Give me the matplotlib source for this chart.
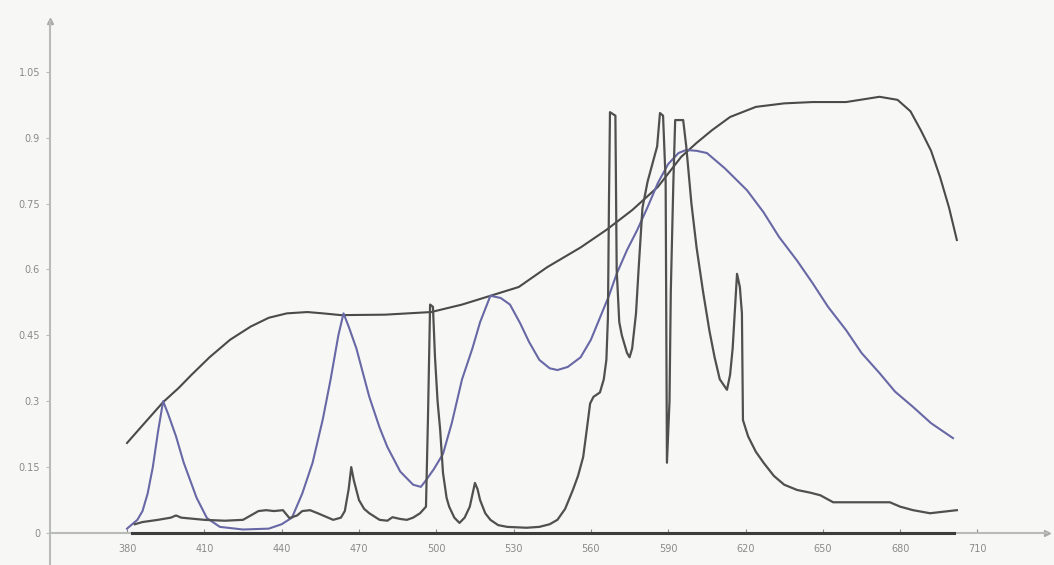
import matplotlib.pyplot as plt

# smooth transmittance-like curve (dark)
wl_t = [380, 386, 394, 400, 405, 412, 420, 428, 435, 442, 450, 456, 463, 480, 498, 510,
        521, 532, 543, 556, 566, 576, 586, 595, 601, 607, 614, 624, 635, 646, 659, 672,
        679, 684, 688, 692, 695.5, 699, 702]
val_t = [0.205, 0.245, 0.298, 0.33, 0.36, 0.40, 0.44, 0.47, 0.49, 0.50, 0.503, 0.50, 0.496,
         0.497, 0.503, 0.52, 0.54, 0.56, 0.605, 0.65, 0.69, 0.735, 0.788, 0.856, 0.888,
         0.917, 0.947, 0.97, 0.978, 0.981, 0.981, 0.993, 0.986, 0.96, 0.917, 0.87, 0.81,
         0.74, 0.667]

# multi-peak smooth curve (blue)
wl_b = [380, 384, 386, 388, 390, 392, 394, 396, 399, 402, 404.5, 407, 411, 416, 425, 435,
        440, 444, 448, 452, 456, 459, 462, 464, 466, 469, 474, 478, 481, 486, 491, 494,
        496, 499, 502.6, 506, 510, 514, 517, 521, 525, 528.6, 532.5, 536, 540, 544, 547,
        551, 556, 560, 563.5, 567, 570, 574, 578, 582, 586, 590, 594, 597, 601, 605, 612,
        620.6, 627, 633, 640, 646, 652, 659, 665, 672, 678, 685, 692, 700.5]
val_b = [0.01, 0.03, 0.05, 0.09, 0.15, 0.23, 0.30, 0.27, 0.22, 0.16, 0.12, 0.08, 0.034,
         0.014, 0.008, 0.01, 0.02, 0.035, 0.09, 0.16, 0.26, 0.35, 0.45, 0.50, 0.47, 0.42,
         0.31, 0.24, 0.196, 0.14, 0.11, 0.105, 0.12, 0.145, 0.18, 0.25, 0.35, 0.42, 0.48,
         0.54, 0.535, 0.52, 0.478, 0.435, 0.394, 0.375, 0.371, 0.378, 0.40, 0.44, 0.49,
         0.54, 0.59, 0.644, 0.69, 0.742, 0.797, 0.84, 0.865, 0.872, 0.87, 0.865, 0.83,
         0.78, 0.73, 0.674, 0.62, 0.569, 0.515, 0.462, 0.41, 0.364, 0.322, 0.287, 0.25,
         0.216]

# jagged emission spectrum (grey)
wl_s = [383, 386, 392, 397, 399, 401, 410, 418, 425, 428, 431, 434, 437, 440.5, 443, 446,
        448, 451, 454, 457.6, 460, 463, 464.5, 466, 467, 468, 470, 472, 474, 478, 481, 483,
        486, 488.6, 491, 493.7, 496, 496.8, 497.6, 498.7, 499.5, 500.5, 501.5, 502.6, 504,
        505, 507, 509, 511, 513, 515, 516, 517, 519, 521, 524, 527.5, 535, 540, 544, 547,
        550, 553, 555, 557, 558.5, 559.7, 561, 563.5, 565, 566, 566.6, 567, 567.4, 569.5,
        570, 571, 572, 574, 575, 576, 577.5, 578.5, 580, 582, 585.7, 586.8, 588, 589,
        589.5, 590.5, 591, 592, 592.7, 595.8, 597, 599, 601, 603.5, 606, 608, 610, 612.8,
        614, 615, 616, 616.7, 617.8, 618.6, 619, 621, 624, 627, 631, 635, 640, 645, 649,
        654, 665, 676, 678, 680, 685, 691.6, 696, 702]
val_s = [0.02, 0.025, 0.03, 0.035, 0.04, 0.035, 0.03, 0.028, 0.03, 0.04, 0.05, 0.052, 0.05,
         0.052, 0.034, 0.04, 0.05, 0.052, 0.045, 0.036, 0.03, 0.035, 0.05, 0.10, 0.15, 0.12,
         0.075, 0.055, 0.045, 0.03, 0.028, 0.036, 0.032, 0.03, 0.035, 0.045, 0.06, 0.27,
         0.52, 0.515, 0.40, 0.30, 0.235, 0.137, 0.08, 0.06, 0.035, 0.023, 0.035, 0.06,
         0.114, 0.10, 0.075, 0.045, 0.03, 0.018, 0.014, 0.012, 0.014, 0.02, 0.03, 0.055,
         0.098, 0.13, 0.173, 0.24, 0.295, 0.31, 0.32, 0.35, 0.394, 0.49, 0.75, 0.958, 0.95,
         0.60, 0.48, 0.45, 0.41, 0.40, 0.42, 0.50, 0.60, 0.74, 0.80, 0.88, 0.956, 0.95,
         0.80, 0.16, 0.30, 0.55, 0.80, 0.94, 0.94, 0.88, 0.75, 0.65, 0.55, 0.46, 0.40,
         0.35, 0.326, 0.36, 0.42, 0.52, 0.59, 0.56, 0.50, 0.257, 0.22, 0.185, 0.16, 0.13,
         0.11, 0.098, 0.092, 0.086, 0.07, 0.07, 0.07, 0.065, 0.06, 0.052, 0.045, 0.048,
         0.052]

x_ticks = [380, 410, 440, 470, 500, 530, 560, 590, 620, 650, 680, 710]
y_ticks = [0, 0.15, 0.3, 0.45, 0.6, 0.75, 0.9, 1.05]
y_labels = ["0", "0.15", "0.3", "0.45", "0.6", "0.75", "0.9", "1.05"]

fig = plt.figure(figsize=(10.54, 5.65), dpi=100, facecolor="#f7f8f5")
ax = fig.add_axes([0, 0, 1, 1])
ax.set_facecolor("#f7f8f5")
ax.set_xlim(330.7, 739.7)
ax.set_ylim(-0.0728, 1.2133)

axc = "#b9bbb8"
ax.spines["left"].set_position(("data", 350))
ax.spines["bottom"].set_position(("data", 0))
ax.spines["left"].set_bounds(-0.075, 1.165)
ax.spines["bottom"].set_bounds(350, 737)
for s in ["top", "right"]:
    ax.spines[s].set_visible(False)
for s in ["left", "bottom"]:
    ax.spines[s].set_color(axc)
    ax.spines[s].set_linewidth(1.5)
ax.plot([350], [1.165], marker="^", color="#aaaaaa", ms=5, clip_on=False)
ax.plot([737], [0], marker=">", color="#aaaaaa", ms=5, clip_on=False)

ax.set_xticks(x_ticks)
ax.set_yticks(y_ticks)
ax.set_yticklabels(y_labels)
ax.tick_params(axis="x", direction="in", length=3, color="#888888", labelsize=7,
               labelcolor="#8a8a8a", pad=8)
ax.tick_params(axis="y", direction="out", length=3, color=axc, labelsize=7,
               labelcolor="#8a8a8a", pad=4)

# dark baseline under the curves
ax.plot([min(wl_t) + 2, max(wl_t) - 1], [0, 0], color="#3c3c3c", lw=2.2, zorder=3)

ax.plot(wl_t, val_t, color="#4a4a4a", lw=1.5, zorder=4)
ax.plot(wl_b, val_b, color="#6868a6", lw=1.5, zorder=4)
ax.plot(wl_s, val_s, color="#505050", lw=1.6, zorder=5)

plt.savefig("out.png", dpi=100, facecolor=fig.get_facecolor())
